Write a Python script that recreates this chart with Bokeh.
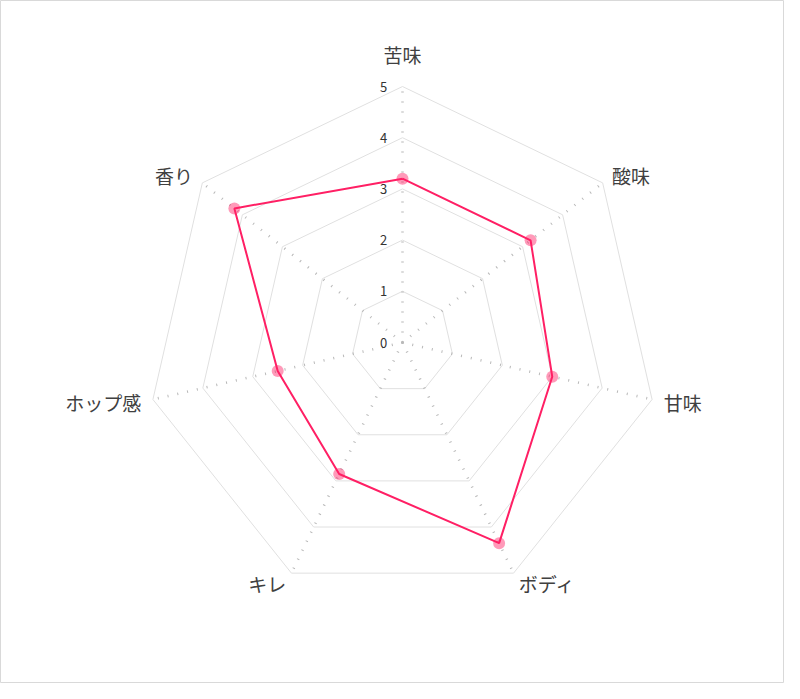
import math
from bokeh.plotting import figure
from bokeh.models import Range1d, ColumnDataSource
from bokeh.core.properties import value
from bokeh.embed import file_html
from bokeh.resources import INLINE

# ---- data ----
categories = ["苦味", "酸味", "甘味", "ボディ", "キレ", "ホップ感", "香り"]
scores = [3.2, 3.2, 3.0, 4.35, 2.85, 2.5, 4.2]
tick_values = [0, 1, 2, 3, 4, 5]
tick_labels = ["0", "1", "2", "3", "4", "5"]

# ---- layout ----
W, H = 784, 683
CX, CY = 402, 342          # radar centre in figure pixels (from top-left)
UNIT = 51.2                # pixels per score unit
RMAX = 5
FONT = "Noto Sans CJK JP"

p = figure(width=W, height=H, output_backend="svg", toolbar_location=None,
           x_range=Range1d(-CX / UNIT, (W - CX) / UNIT),
           y_range=Range1d(-(H - CY) / UNIT, CY / UNIT),
           min_border=0, background_fill_color="white")
p.axis.visible = False
p.grid.visible = False
p.outline_line_color = "#d9d9d9"
p.outline_line_width = 1

n = len(categories)
angles = [2 * math.pi * i / n for i in range(n)]
dirs = [(math.sin(a), math.cos(a)) for a in angles]

# grid polygons
for lv in tick_values[1:]:
    xs = [lv * dx for dx, dy in dirs] + [lv * dirs[0][0]]
    ys = [lv * dy for dx, dy in dirs] + [lv * dirs[0][1]]
    p.line(xs, ys, line_color="#e0e0e0", line_width=1)

# spokes (dotted)
for dx, dy in dirs:
    p.line([0, RMAX * dx], [0, RMAX * dy], line_color="#b8b8b8",
           line_width=2.6, line_dash="1 9")

# tick labels
p.text(x=[-19 / UNIT] * len(tick_values), y=tick_values, text=tick_labels,
       text_font=value(FONT), text_font_size="13px", text_color="#333333",
       text_align="center", text_baseline="middle")

# category labels
lx, ly, la = [], [], []
for (dx, dy) in dirs:
    d = 12 if dy < 0.99 else 32
    r = RMAX + d / UNIT
    lx.append(r * dx)
    ly.append(r * dy)
    if abs(dx) < 1e-6:
        la.append("center")
    elif dx > 0:
        la.append("left")
    else:
        la.append("right")
src_lab = ColumnDataSource(dict(x=lx, y=ly, t=categories, a=la))
p.text(x="x", y="y", text="t", text_align="a", source=src_lab,
       text_font=value(FONT), text_font_size="19px", text_color="#404040",
       text_baseline="middle")

# data polygon
px = [s * d[0] for s, d in zip(scores, dirs)]
py = [s * d[1] for s, d in zip(scores, dirs)]
p.line(px + [px[0]], py + [py[0]], line_color="#ff1f64", line_width=2)
p.scatter(px, py, size=12, fill_color="#ff1f64", fill_alpha=0.45,
          line_color=None)

open("out.html", "w").write(file_html(p, INLINE))
